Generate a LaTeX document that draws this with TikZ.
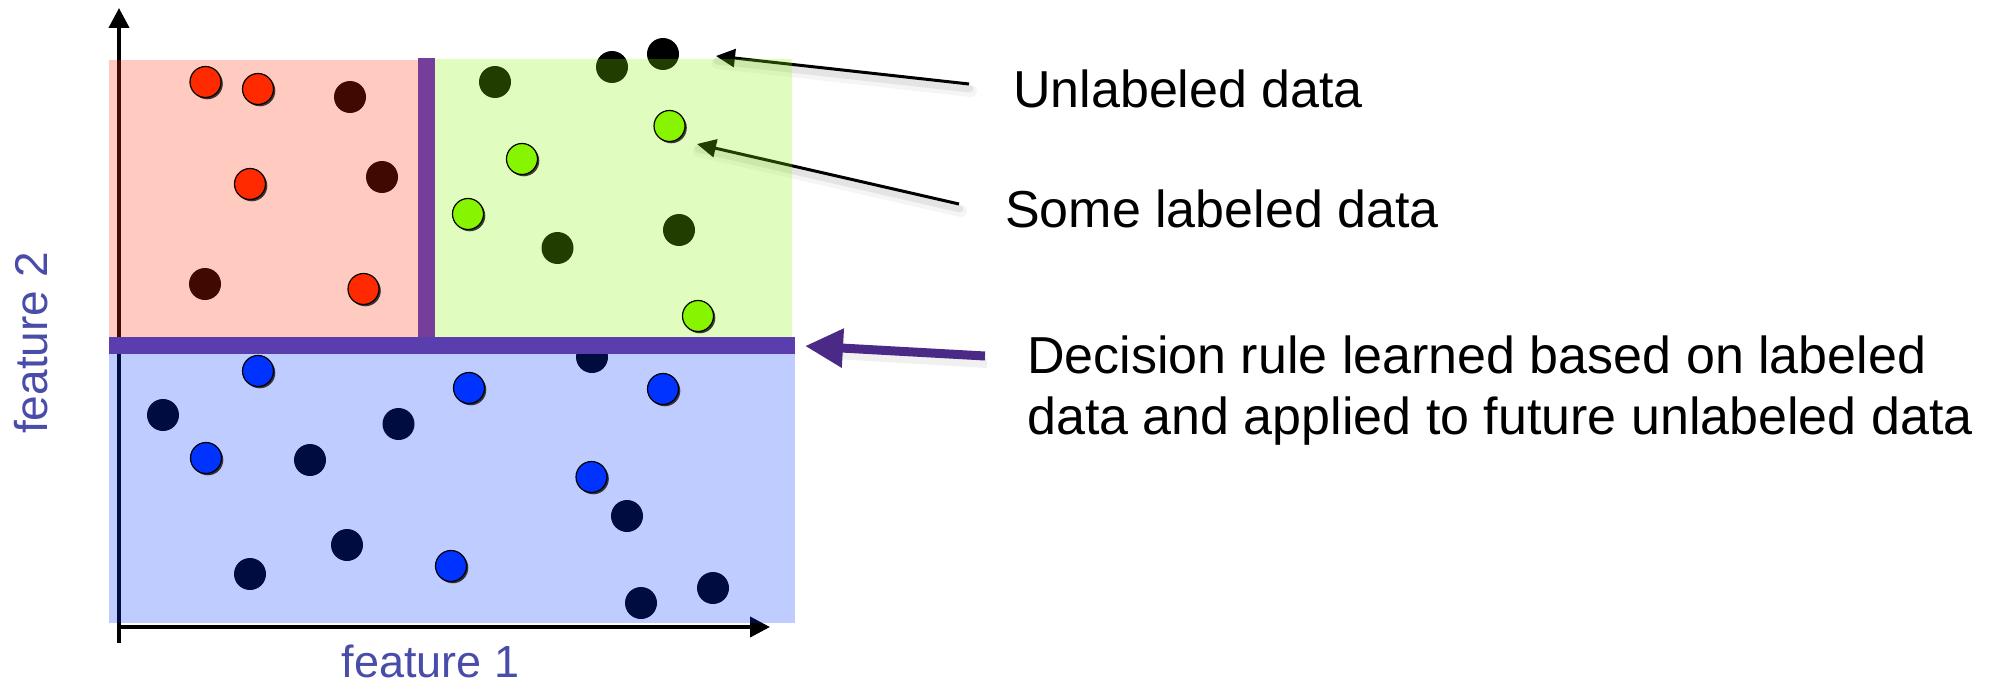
\documentclass[tikz,border=0pt]{standalone}
\usepackage{fontspec}
\setmainfont{Liberation Sans}
\usetikzlibrary{arrows.meta,shadows}
\definecolor{redC}{HTML}{FF2A00}
\definecolor{greenC}{HTML}{88F500}
\definecolor{blueC}{HTML}{0033FF}
\definecolor{vbar}{HTML}{743E9A}
\definecolor{hbar}{HTML}{5A3EAE}
\definecolor{purpArrow}{HTML}{4B2A87}
\definecolor{flab}{HTML}{4A4CAA}
\tikzset{
  udot/.style={circle,fill=black,minimum size=32pt,inner sep=0pt},
  ldot/.style={circle,draw=black,line width=1.2pt,minimum size=31pt,inner sep=0pt,
     drop shadow={shadow xshift=1.8pt,shadow yshift=-1.8pt,fill=black,opacity=0.75}},
  region/.style={fill opacity=0.25,draw=none},
  axis/.style={line width=4pt,-{Triangle[length=20pt,width=20pt]}},
  callout/.style={line width=3pt,-{Triangle[length=19pt,width=18pt]}},
  shade1/.style={line width=7pt,draw=black,opacity=0.07,line cap=round},
  shade2/.style={line width=12pt,draw=black,opacity=0.04,line cap=round},
  bigtext/.style={font=\fontsize{52}{61}\selectfont,inner sep=0pt,anchor=base west},
  axlabel/.style={font=\fontsize{46}{50}\selectfont,text=flab,inner sep=0pt,anchor=base},
}
\begin{document}
\begin{tikzpicture}[x=1pt,y=-1pt]
\useasboundingbox (0,0) rectangle (2003,685);
% axes
\coordinate (ybot) at (119,643);
\coordinate (ytop) at (119,8);
\coordinate (xl) at (117,627);
\coordinate (xr) at (770,627);
\draw[axis] (ybot) -- (ytop);
\draw[axis] (xl) -- (xr);
% unlabeled data (black, seen through the tinted regions)
\foreach \n/\x/\y in {u1/350/97,u2/382/177,u3/205/284,
  u4/495/82,u5/612/67,u6/663/54,u7/557.5/248,u8/679/230,
  u9/592/357,u10/163/415,u11/398.5/424,u12/310/460,u13/627/516,
  u14/347/545,u15/250/574,u16/641/603,u17/713/588}
  \node[udot] (\n) at (\x,\y) {};
% text labels
\node[bigtext] (tu) at (1013,107) {Unlabeled data};
\node[bigtext] (ts) at (1005,227) {Some labeled data};
\node[bigtext,align=left] (td) at (1027,434) {Decision rule learned based on labeled\\data and applied to future unlabeled data};
% callout arrows (under the tinted regions)
\coordinate (t1) at (969,84);  \coordinate (h1) at (716,56);
\coordinate (t2) at (959,204); \coordinate (h2) at (697,144);
\foreach \a/\b in {t1/h1,t2/h2}{
  \draw[shade2] ([shift={(2,7)}]\a) -- ([shift={(2,7)}]\b);
  \draw[shade1] ([shift={(1,5)}]\a) -- ([shift={(1,5)}]\b);
}
\draw[callout] (t1) -- (h1);
\draw[callout] (t2) -- (h2);
% regions
\fill[region,fill=redC] (109,60) rectangle (420,337);
\fill[region,fill=greenC] (433,59) rectangle (792,337);
\fill[region,fill=blueC] (109,354) rectangle (795,623);
% labeled data
\foreach \n/\x/\y in {r1/205.5/82,r2/258/89,r3/250/184,r4/363.5/289}
  \node[ldot,fill=redC] (\n) at (\x,\y) {};
\foreach \n/\x/\y in {g1/669.5/126,g2/522/159,g3/468/214,g4/698/316}
  \node[ldot,fill=greenC] (\n) at (\x,\y) {};
\foreach \n/\x/\y in {b1/258/371,b2/469/388,b3/663/389,b4/206/458,b5/591.5/477,b6/451/566}
  \node[ldot,fill=blueC] (\n) at (\x,\y) {};
% decision boundaries
\fill[vbar] (418,58) rectangle (435,338);
\fill[hbar] (109,337) rectangle (795,354);
% decision rule arrow
\coordinate (t3) at (985,356); \coordinate (h3) at (805,346);
\draw[line width=10pt,draw=black,opacity=0.06] ([shift={(2,7)}]t3) -- ([shift={(30,8)}]h3);
\draw[line width=9pt,purpArrow,-{Triangle[length=38pt,width=37pt]}] (t3) -- (h3);
% axis labels
\node[axlabel,font=\fontsize{45}{50}\selectfont] (f1) at (430.5,677) {feature 1};
\node[axlabel,rotate=90] (f2) at (47,343) {feature 2};
\end{tikzpicture}
\end{document}
